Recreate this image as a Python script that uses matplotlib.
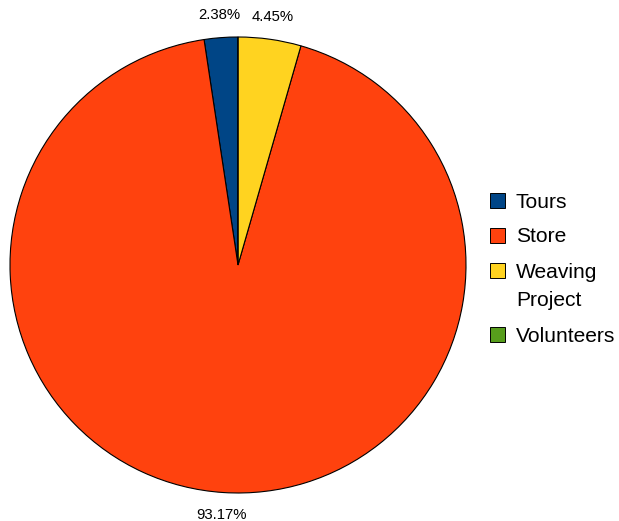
import matplotlib.pyplot as plt
from matplotlib.patches import Rectangle

plt.rcParams['font.family'] = ['Liberation Sans', 'DejaVu Sans']

# revenue share by source
sources = ['Tours', 'Store', 'Weaving\nProject', 'Volunteers']
shares = [2.38, 93.17, 4.45, 0.0]
colors = ['#004586', '#ff420e', '#ffd320', '#579d1c']

W, H = 619, 521
fig = plt.figure(figsize=(W / 100, H / 100), dpi=100)

# pie centred at (238, 265) px, radius 228 px
cx, cy, r = 238, 265, 228
ax = fig.add_axes([(cx - r) / W, (H - cy - r) / H, 2 * r / W, 2 * r / H])

def pct_label(p):
    return '%.2f%%' % p if p > 0 else ''

wedges, texts, autotexts = ax.pie(
    shares, colors=colors, startangle=90, counterclock=True,
    autopct=pct_label, pctdistance=1.1,
    wedgeprops={'edgecolor': 'black', 'linewidth': 0.8},
    textprops={'fontsize': 10.7, 'color': 'black'})
ax.set_xlim(-1, 1)
ax.set_ylim(-1, 1)
ax.set_aspect('equal')
for t in autotexts:
    t.set_clip_on(False)

# legend drawn by hand: square key beside the first line of each label
key_x, key_size, text_x = 490, 15, 516
row_gap, line_gap = 35, 29
y = 200
for name, col in zip(sources, colors):
    lines = name.split('\n')
    fig.patches.append(Rectangle(((key_x) / W, (H - y - key_size / 2) / H),
                                 key_size / W, key_size / H,
                                 transform=fig.transFigure, facecolor=col,
                                 edgecolor='black', linewidth=0.7))
    for i, line in enumerate(lines):
        fig.text(text_x / W, (H - y - i * line_gap) / H, line,
                 fontsize=15.1, va='center_baseline', ha='left')
    y += row_gap + line_gap * (len(lines) - 1)

fig.savefig('out.png', dpi=100)
